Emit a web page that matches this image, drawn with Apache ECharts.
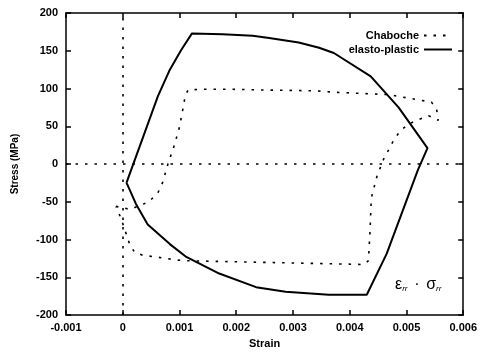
<!DOCTYPE html>
<html>
<head>
<meta charset="utf-8">
<script src="https://cdn.jsdelivr.net/npm/echarts@6/dist/echarts.min.js"></script>
<style>
  html, body { margin: 0; padding: 0; background: #fff; }
  #chart { width: 480px; height: 354px; }
</style>
</head>
<body>
<div id="chart"></div>
<script>
// strain, stress (MPa)
const elastoPlastic = [
  [0.000065, -25], [0.00035, 34], [0.00062, 90], [0.00083, 125], [0.00103, 151],
  [0.00122, 173], [0.00176, 172], [0.00229, 170], [0.00258, 167], [0.0031, 161],
  [0.00346, 154], [0.00372, 147], [0.00437, 116], [0.00486, 75], [0.00537, 21],
  [0.0052, -8], [0.00465, -119], [0.0043, -173], [0.00363, -173], [0.00287, -169],
  [0.00235, -163], [0.0017, -145], [0.00112, -123], [0.00083, -106], [0.00044, -80],
  [0.00024, -54], [0.00008, -27], [0.000065, -25]
]
const chaboche = [
  [-0.00012, -56], [0.00013, -60], [0.00046, -50], [0.00062, -38], [0.0007, -25],
  [0.0008, 1], [0.00091, 25], [0.001, 49], [0.00107, 77], [0.0011, 90],
  [0.00115, 98], [0.00135, 99], [0.00194, 99], [0.00252, 98], [0.0034, 97],
  [0.00375, 95], [0.00468, 92], [0.00544, 82], [0.00553, 73], [0.00556, 58],
  [0.00539, 64], [0.00518, 58], [0.00504, 53], [0.00489, 44], [0.00477, 31],
  [0.00468, 18], [0.0046, 7], [0.00448, -16], [0.00438, -45], [0.00436, -84],
  [0.00433, -128], [0.00425, -133], [0.00112, -128], [0.00094, -127], [0.00059, -123],
  [0.00036, -121], [0.00021, -117], [0.00012, -106], [0.00005, -90], [-0.00003, -72],
  [-0.00012, -56]
]
const seriesNames = ['Chaboche', 'elasto-plastic']
const xTicks = { min: -0.001, max: 0.006, step: 0.001 }
const yTicks = { min: -200, max: 200, step: 50 }

const font = 'Liberation Sans, Arial, sans-serif'
const dotted = [2.5, 7]

const chart = echarts.init(document.getElementById('chart'))
const fmtX = (v) => (Math.abs(v) < 1e-12 ? '0' : v.toFixed(3))

const tickSide = {
  axisLine: { show: true, onZero: false, lineStyle: { color: '#000', width: 1.5 } },
  axisTick: { show: true, inside: true, length: 5, lineStyle: { color: '#000', width: 1.5 } },
  splitLine: { show: false }
}

chart.setOption({
  animation: false,
  grid: { left: 66, right: 15, top: 13, bottom: 35 },
  legend: {
    data: seriesNames,
    orient: 'vertical',
    right: 22,
    top: 25,
    align: 'right',
    itemWidth: 28,
    itemHeight: 8,
    itemGap: 3,
    itemStyle: { color: 'transparent', borderWidth: 0, opacity: 0 },
    textStyle: { fontFamily: font, fontWeight: 'bold', fontSize: 11, color: '#000' }
  },
  xAxis: [
    {
      type: 'value', min: xTicks.min, max: xTicks.max, interval: xTicks.step,
      name: 'Strain', nameLocation: 'middle', nameGap: 19,
      nameTextStyle: { fontFamily: font, fontWeight: 'bold', fontSize: 11, color: '#000' },
      axisLabel: { formatter: fmtX, margin: 7, fontFamily: font, fontWeight: 'bold', fontSize: 11, color: '#000' },
      ...tickSide
    },
    {
      type: 'value', position: 'top', min: xTicks.min, max: xTicks.max, interval: xTicks.step,
      axisLabel: { show: false },
      ...tickSide
    }
  ],
  yAxis: [
    {
      type: 'value', min: yTicks.min, max: yTicks.max, interval: yTicks.step,
      name: 'Stress (MPa)', nameLocation: 'middle', nameGap: 46,
      nameTextStyle: { fontFamily: font, fontWeight: 'bold', fontSize: 10, color: '#000' },
      axisLabel: { margin: 8, fontFamily: font, fontWeight: 'bold', fontSize: 11, color: '#000' },
      ...tickSide
    },
    {
      type: 'value', position: 'right', min: yTicks.min, max: yTicks.max, interval: yTicks.step,
      axisLabel: { show: false },
      ...tickSide
    }
  ],
  series: [
    {
      name: seriesNames[0],
      type: 'line',
      data: chaboche,
      showSymbol: false,
      symbol: 'none',
      lineStyle: { color: '#000', width: 1.6, type: dotted },
      itemStyle: { color: '#000' },
      markLine: {
        silent: true,
        symbol: 'none',
        label: { show: false },
        lineStyle: { color: '#000', width: 1.6, type: dotted },
        data: [{ xAxis: 0 }, { yAxis: 0 }]
      },
      z: 2
    },
    {
      name: seriesNames[1],
      type: 'line',
      data: elastoPlastic,
      showSymbol: false,
      symbol: 'none',
      lineStyle: { color: '#000', width: 2 },
      itemStyle: { color: '#000' },
      z: 3
    }
  ],
  graphic: [
    {
      type: 'text',
      left: 395,
      top: 277,
      style: {
        text: '{a|ε}{s|rr}  {a|·}  {a|σ}{s|rr}',
        rich: {
          a: { fontFamily: font, fontSize: 16, fill: '#000', verticalAlign: 'bottom' },
          s: { fontFamily: font, fontSize: 8, fill: '#000', fontStyle: 'italic', padding: [7, 0, 0, 0] }
        }
      }
    }
  ]
})
</script>
</body>
</html>
